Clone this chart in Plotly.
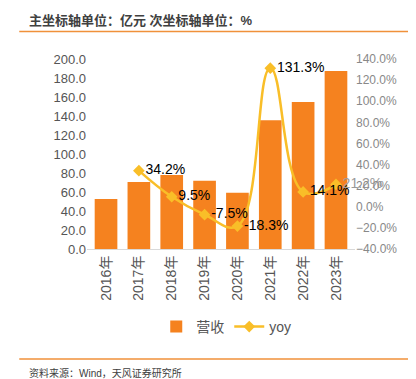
import plotly.graph_objects as go

years = ["2016年", "2017年", "2018年", "2019年", "2020年", "2021年", "2022年", "2023年"]
revenue = [52.6, 70.5, 77.9, 71.9, 59.3, 135.5, 154.7, 187.4]
yoy = [None, 34.2, 9.5, -7.5, -18.3, 131.3, 14.1, 21.2]
yoy_labels = ["", "34.2%", "9.5%", "-7.5%", "-18.3%", "131.3%", "14.1%", "21.2%"]
label_colors = ["#000000"] * 7 + ["#9a9a9a"]

BAR = "#F5821F"
LINE = "#F9BE28"
FONT = "Liberation Sans, Noto Sans CJK SC, sans-serif"

# the page body has an 8px margin, so figure coords = screen coords - 8
OFF = 8
W, H = 416 - OFF, 379 - OFF
L, R, T, B = 86.75 - OFF, 354.75 - OFF, 59 - OFF, 249 - OFF

def px(x):
    return (x - OFF - L) / (R - L)

def py(y):
    return (B - (y - OFF)) / (B - T)

fig = go.Figure()
fig.add_trace(go.Bar(
    x=years, y=revenue, name="营收", marker=dict(color=BAR, line=dict(width=0)),
    yaxis="y"))
fig.add_trace(go.Scatter(
    x=years, y=yoy, name="yoy", yaxis="y2", mode="lines+markers+text",
    line=dict(color=LINE, width=2.5, shape="spline", smoothing=1.2),
    marker=dict(symbol="diamond", size=9, color=LINE),
    text=yoy_labels, textposition="middle right",
    textfont=dict(size=14, color=label_colors, family=FONT),
    cliponaxis=False))

fig.update_layout(
    width=W, height=H,
    margin=dict(l=L, r=W - R, t=T, b=H - B, autoexpand=False),
    paper_bgcolor="white", plot_bgcolor="white",
    font=dict(family=FONT, color="#555555", size=12),
    bargap=0.31,
    showlegend=True,
    legend=dict(orientation="h", x=px(226), xanchor="center", y=py(327), yanchor="middle",
                font=dict(size=14, color="#555555"), itemwidth=30),
    xaxis=dict(tickangle=-90, showgrid=False, showline=True, linecolor="#d9d9d9",
               linewidth=1, ticks="", tickfont=dict(size=14, color="#555555")),
    yaxis=dict(range=[0, 200], dtick=20, tickformat=".1f", showgrid=False,
               zeroline=False, showline=False, ticks="",
               tickfont=dict(size=13, color="#555555")),
    yaxis2=dict(range=[-40, 140], dtick=20, tickformat=".1f", ticksuffix="%",
                overlaying="y", side="right", showgrid=False, zeroline=False,
                showline=False, ticks="", tickfont=dict(size=12, color="#888888")),
    annotations=[
        dict(text="<b>主坐标轴单位：亿元 次坐标轴单位：%</b>", xref="paper", yref="paper",
             x=px(27), y=py(20), xanchor="left", yanchor="middle", showarrow=False,
             font=dict(size=13, color="#404040", family=FONT)),
        dict(text="资料来源：Wind，天风证券研究所", xref="paper", yref="paper",
             x=px(27), y=py(373), xanchor="left", yanchor="middle", showarrow=False,
             font=dict(size=10, color="#404040", family=FONT)),
    ],
    shapes=[
        dict(type="line", xref="paper", yref="paper", x0=px(19), x1=px(412),
             y0=py(31.5), y1=py(31.5), line=dict(color="#F0913A", width=1.5)),
        dict(type="line", xref="paper", yref="paper", x0=px(19), x1=px(412),
             y0=py(359), y1=py(359), line=dict(color="#F0913A", width=1.5)),
    ],
)

fig.write_html("out.html")
